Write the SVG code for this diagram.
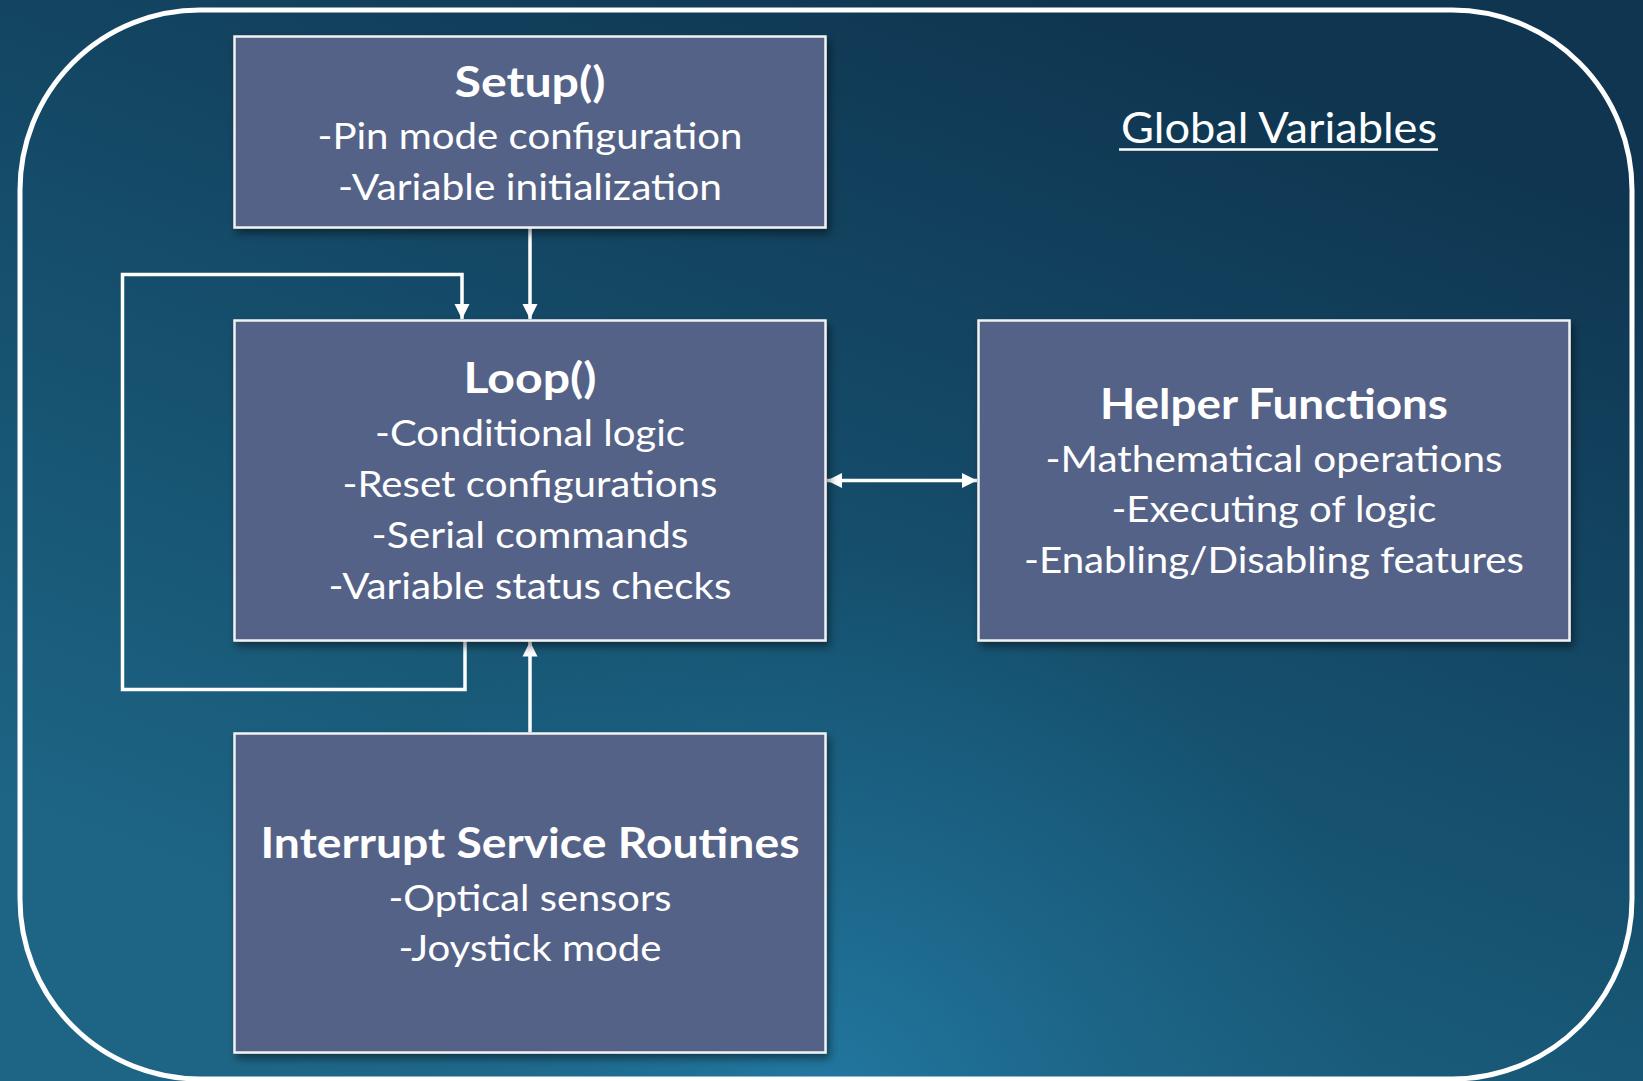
<svg xmlns="http://www.w3.org/2000/svg" width="1643" height="1081" viewBox="0 0 1643 1081">
  <defs>
    <linearGradient id="bg" gradientUnits="userSpaceOnUse" x1="1100" y1="0" x2="700" y2="1081">
      <stop offset="0" stop-color="#0f3550"/>
      <stop offset="0.6" stop-color="#165270"/>
      <stop offset="1" stop-color="#1e6585"/>
    </linearGradient>
    <radialGradient id="glow" gradientUnits="userSpaceOnUse" cx="820" cy="1110" r="560">
      <stop offset="0" stop-color="#2279a3" stop-opacity="0.95"/>
      <stop offset="0.5" stop-color="#1f6f96" stop-opacity="0.45"/>
      <stop offset="1" stop-color="#1d6a8f" stop-opacity="0"/>
    </radialGradient>
    <filter id="shadow" x="-5%" y="-5%" width="115%" height="120%">
      <feDropShadow dx="3" dy="5" stdDeviation="4" flood-color="#000" flood-opacity="0.45"/>
    </filter>
    <marker id="arrow" markerUnits="userSpaceOnUse" markerWidth="16" markerHeight="16" viewBox="0 0 16 16" refX="15" refY="8" orient="auto-start-reverse">
      <path d="M0,0.5 L15,8 L0,15.5 z" fill="#ffffff"/>
    </marker>
    <style>
      .box { fill: #556287; stroke: #f2f2f2; stroke-width: 2.5; filter: url(#shadow); }
      .title { font-family: Lato, "Open Sans", sans-serif; font-weight: bold; font-size: 42px; fill: #ffffff; text-anchor: middle; }
      .item { font-family: Lato, "Open Sans", sans-serif; font-size: 37px; fill: #ffffff; text-anchor: middle; }
      .conn { fill: none; stroke: #ffffff; stroke-width: 3.5; }
    </style>
  </defs>

  <rect x="0" y="0" width="1643" height="1081" fill="url(#bg)"/>
  <rect x="0" y="0" width="1643" height="1081" fill="url(#glow)"/>
  <rect id="frame" x="20" y="10" width="1612" height="1069" rx="180" ry="180" fill="none" stroke="#ffffff" stroke-width="5"/>

  <g id="global-variables">
    <text x="1279" y="143" font-family="Lato, 'Open Sans', sans-serif" font-size="43" fill="#ffffff" text-anchor="middle" textLength="316" lengthAdjust="spacingAndGlyphs">Global Variables</text>
    <line x1="1119" y1="149.5" x2="1438" y2="149.5" stroke="#ffffff" stroke-width="2.5"/>
  </g>

  <g id="connectors">
    <path class="conn" d="M530,227.5 V319" marker-end="url(#arrow)"/>
    <path class="conn" d="M465,641 V689.5 H122.5 V274.5 H462 V319" marker-end="url(#arrow)"/>
    <path class="conn" d="M530,732.5 V641.5" marker-end="url(#arrow)"/>
    <path class="conn" d="M827,480.5 H977" marker-start="url(#arrow)" marker-end="url(#arrow)"/>
  </g>

  <g id="setup">
    <rect class="box" x="234.5" y="36.5" width="591" height="191"/>
    <text class="title" x="530" y="97" textLength="151" lengthAdjust="spacingAndGlyphs">Setup()</text>
    <text class="item" x="530" y="149" textLength="425" lengthAdjust="spacingAndGlyphs">-Pin mode configuration</text>
    <text class="item" x="530" y="200" textLength="384" lengthAdjust="spacingAndGlyphs">-Variable initialization</text>
  </g>

  <g id="loop">
    <rect class="box" x="234.5" y="320.5" width="591" height="320"/>
    <text class="title" x="530" y="393" textLength="133" lengthAdjust="spacingAndGlyphs">Loop()</text>
    <text class="item" x="530" y="446" textLength="310" lengthAdjust="spacingAndGlyphs">-Conditional logic</text>
    <text class="item" x="530" y="497" textLength="375" lengthAdjust="spacingAndGlyphs">-Reset configurations</text>
    <text class="item" x="530" y="548" textLength="317" lengthAdjust="spacingAndGlyphs">-Serial commands</text>
    <text class="item" x="530" y="599" textLength="403" lengthAdjust="spacingAndGlyphs">-Variable status checks</text>
  </g>

  <g id="helper-functions">
    <rect class="box" x="978.5" y="320.5" width="591" height="320"/>
    <text class="title" x="1274" y="419" textLength="348" lengthAdjust="spacingAndGlyphs">Helper Functions</text>
    <text class="item" x="1274" y="472" textLength="457" lengthAdjust="spacingAndGlyphs">-Mathematical operations</text>
    <text class="item" x="1274" y="522" textLength="325" lengthAdjust="spacingAndGlyphs">-Executing of logic</text>
    <text class="item" x="1274" y="573" textLength="500" lengthAdjust="spacingAndGlyphs">-Enabling/Disabling features</text>
  </g>

  <g id="isr">
    <rect class="box" x="234.5" y="733.5" width="591" height="319"/>
    <text class="title" x="530" y="858" textLength="539" lengthAdjust="spacingAndGlyphs">Interrupt Service Routines</text>
    <text class="item" x="530" y="911" textLength="283" lengthAdjust="spacingAndGlyphs">-Optical sensors</text>
    <text class="item" x="530" y="961" textLength="263" lengthAdjust="spacingAndGlyphs">-Joystick mode</text>
  </g>
</svg>
